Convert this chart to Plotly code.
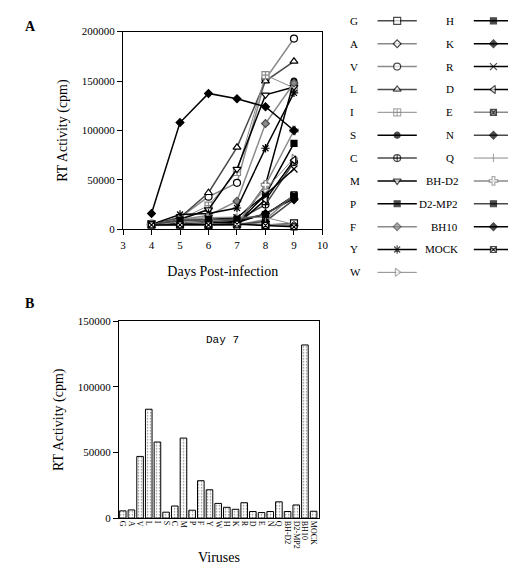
import plotly.graph_objects as go

# ---------------- data ----------------
days = [4, 5, 6, 7, 8, 9]

virus_names = ["G", "A", "V", "L", "I", "S", "C", "M", "P", "F", "Y", "W",
               "H", "K", "R", "D", "E", "N", "Q", "BH-D2", "D2-MP2", "BH10", "MOCK"]

G = [5000, 5000, 4500, 5500, 4500, 6000]
A = [5000, 5500, 5000, 6200, 5000, 4000]
V = [5000, 12000, 33000, 47000, 152000, 193000]
L = [5000, 12000, 37000, 83000, 150000, 170000]
I = [5000, 10000, 24000, 58000, 156000, 143000]
S = [5000, 6000, 5000, 4500, 45000, 150000]
C = [5000, 7000, 8000, 9200, 25000, 68000]
M = [5000, 10000, 20000, 61000, 136000, 144000]
P = [5000, 6000, 5500, 6000, 35000, 87000]
F = [5000, 10000, 14000, 28500, 107000, 148000]
Y = [5000, 15000, 16000, 21600, 82000, 138000]
W = [5000, 10000, 12000, 11200, 40000, 72000]
H = [5000, 5000, 6000, 8200, 15000, 34000]
K = [5000, 6000, 7000, 6700, 16000, 31000]
R = [5000, 9000, 10000, 11700, 35000, 61000]
D = [5000, 6000, 5000, 5000, 30000, 70000]
E = [5000, 5000, 5000, 4200, 10000, 35000]
N = [5000, 5000, 5000, 5000, 8000, 30000]
Q = [4000, 8000, 12000, 12400, 12000, 5000]
BH_D2 = [5000, 8000, 6000, 5000, 45000, 100000]
D2_MP2 = [5000, 9000, 10000, 10000, 15000, 33000]
BH10 = [16000, 108000, 137500, 132000, 124000, 100000]
MOCK = [4500, 4500, 4500, 5200, 4000, 2500]

series_values = [G, A, V, L, I, S, C, M, P, F, Y, W,
                 H, K, R, D, E, N, Q, BH_D2, D2_MP2, BH10, MOCK]

day7_values = [5500, 6200, 47000, 83000, 58000, 4500, 9200, 61000, 6000, 28500,
               21600, 11200, 8200, 6700, 11700, 5000, 4200, 5000, 12400, 5000,
               10000, 132000, 5200]

x_ticks_top = [3, 4, 5, 6, 7, 8, 9, 10]
y_ticks_top = [0, 50000, 100000, 150000, 200000]
y_ticks_bottom = [0, 50000, 100000, 150000]

# ---------------- styles ----------------
BLK = "black"
GRY = "#8a8a8a"
DGR = "#4a4a4a"
# (line colour, marker symbol, marker fill, marker line colour, marker size)
styles = {
    "G": (DGR, "square", "white", BLK, 7),
    "A": (GRY, "diamond", "white", BLK, 6),
    "V": (GRY, "circle", "white", BLK, 7),
    "L": (DGR, "triangle-up", "white", BLK, 7),
    "I": (GRY, "square-cross", "white", GRY, 7),
    "S": (BLK, "circle", BLK, BLK, 6),
    "C": (DGR, "circle-cross", "white", BLK, 7),
    "M": (BLK, "triangle-down", "white", BLK, 7),
    "P": (BLK, "square", BLK, BLK, 6),
    "F": (GRY, "diamond", GRY, DGR, 6),
    "Y": (BLK, "asterisk-open", BLK, BLK, 7),
    "W": (GRY, "triangle-right", "white", GRY, 7),
    "H": (BLK, "square", BLK, BLK, 6),
    "K": (BLK, "diamond", BLK, BLK, 6),
    "R": (BLK, "x-thin-open", BLK, BLK, 7),
    "D": (BLK, "triangle-left", "white", BLK, 7),
    "E": (GRY, "square-x", GRY, BLK, 6),
    "N": (DGR, "diamond", BLK, BLK, 6),
    "Q": (GRY, "line-ns-open", GRY, GRY, 6),
    "BH-D2": (GRY, "cross", "white", GRY, 7),
    "D2-MP2": (DGR, "square", BLK, BLK, 6),
    "BH10": (BLK, "diamond", BLK, BLK, 6),
    "MOCK": (BLK, "square-x", "white", BLK, 6),
}
line_widths = {"I": 1, "W": 1, "Q": 1}

FONT = "Liberation Serif"

fig = go.Figure()

# ---------------- panel A: lines ----------------
for name, vals in zip(virus_names, series_values):
    lc, sym, fill, mlc, ms = styles[name]
    fig.add_trace(go.Scatter(
        x=days, y=vals, mode="lines+markers", name=name,
        line=dict(color=lc, width=line_widths.get(name, 1.5)),
        marker=dict(symbol=sym, color=fill, size=ms,
                    line=dict(color=mlc, width=1.2)),
        xaxis="x", yaxis="y", showlegend=False, cliponaxis=False))

# ---------------- custom legend (right) ----------------
n_col1 = 12
for i, name in enumerate(virus_names):
    lc, sym, fill, mlc, ms = styles[name]
    col = 0 if i < n_col1 else 1
    row = i if i < n_col1 else i - n_col1
    fig.add_trace(go.Scatter(
        x=[col + 0.337, col + 0.541, col + 0.745], y=[row, row, row],
        mode="lines+markers",
        line=dict(color=lc, width=line_widths.get(name, 1.5)),
        marker=dict(symbol=sym, color=fill, size=[0, ms, 0],
                    line=dict(color=mlc, width=1.2)),
        xaxis="x3", yaxis="y3", showlegend=False, hoverinfo="skip"))
    if col == 0:
        ax, anchor = 0.03, "left"
    else:
        ax, anchor = (1.03, "left") if len(name) == 1 else (1.19, "right")
    fig.add_annotation(x=ax, y=row, xref="x3", yref="y3", text=name,
                       showarrow=False, xanchor=anchor, yanchor="middle",
                       font=dict(family=FONT, size=11, color="black"))

# ---------------- panel B: bars ----------------
fig.add_trace(go.Bar(
    x=virus_names, y=day7_values, xaxis="x2", yaxis="y2", showlegend=False,
    marker=dict(color="white", line=dict(color="black", width=1),
                pattern=dict(shape=".", fgcolor="black", bgcolor="white",
                             size=3, solidity=0.2)),
    width=0.76))

W_PX, H_PX = 516, 566
def px(x):
    return x / W_PX
def py(y):
    return 1 - y / H_PX

axis_common = dict(showline=True, linecolor="black", linewidth=1.2, mirror=True,
                   ticks="outside", ticklen=5, tickcolor="black", showgrid=False,
                   zeroline=False, tickfont=dict(family=FONT, size=11, color="black"))

fig.update_layout(
    width=W_PX, height=H_PX,
    margin=dict(l=0, r=0, t=0, b=0),
    paper_bgcolor="white", plot_bgcolor="white",
    font=dict(family=FONT, color="black"),
    xaxis=dict(domain=[px(114), px(317)], range=[3, 10], tickvals=x_ticks_top,
               title=dict(text="Days Post-infection", font=dict(size=14), standoff=16),
               anchor="y", **axis_common),
    yaxis=dict(domain=[py(220), py(18)], range=[0, 200000], tickvals=y_ticks_top,
               tickformat="d",
               title=dict(text="RT Activity (cpm)", font=dict(size=14), standoff=10),
               anchor="x", **axis_common),
    xaxis2=dict(domain=[px(110), px(313)], range=[-0.42, 22.57], tickangle=90,
                tickmode="array", tickvals=virus_names, ticktext=virus_names,
                anchor="y2", **{**axis_common,
                                "tickfont": dict(family=FONT, size=8, color="black"),
                                "ticks": ""}),
    yaxis2=dict(domain=[py(515), py(314)], range=[0, 150000], tickvals=y_ticks_bottom,
                tickformat="d",
                title=dict(text="RT Activity (cpm)", font=dict(size=14), standoff=10),
                anchor="x2", **axis_common),
    xaxis3=dict(domain=[px(340), 1], range=[0, 176 / 98], visible=False, fixedrange=True),
    yaxis3=dict(domain=[py(270), py(1)], range=[(270 - 7) / 23.36, -6 / 23.36],
                visible=False, fixedrange=True),
    showlegend=False,
)

fig.add_annotation(x=px(12), y=py(13), xref="paper", yref="paper", text="<b>A</b>",
                   showarrow=False, xanchor="left", yanchor="middle",
                   font=dict(family=FONT, size=14, color="black"))
fig.add_annotation(x=px(12), y=py(296), xref="paper", yref="paper", text="<b>B</b>",
                   showarrow=False, xanchor="left", yanchor="middle",
                   font=dict(family=FONT, size=14, color="black"))
fig.add_annotation(x=px(215), y=py(333), xref="paper", yref="paper", text="Day 7",
                   showarrow=False, xanchor="center", yanchor="middle",
                   font=dict(family="Liberation Mono", size=11, color="black"))
fig.add_annotation(x=px(212), y=py(555), xref="paper", yref="paper", text="Viruses",
                   showarrow=False, xanchor="center", yanchor="middle",
                   font=dict(family=FONT, size=14, color="black"))

fig.write_html("out.html")
